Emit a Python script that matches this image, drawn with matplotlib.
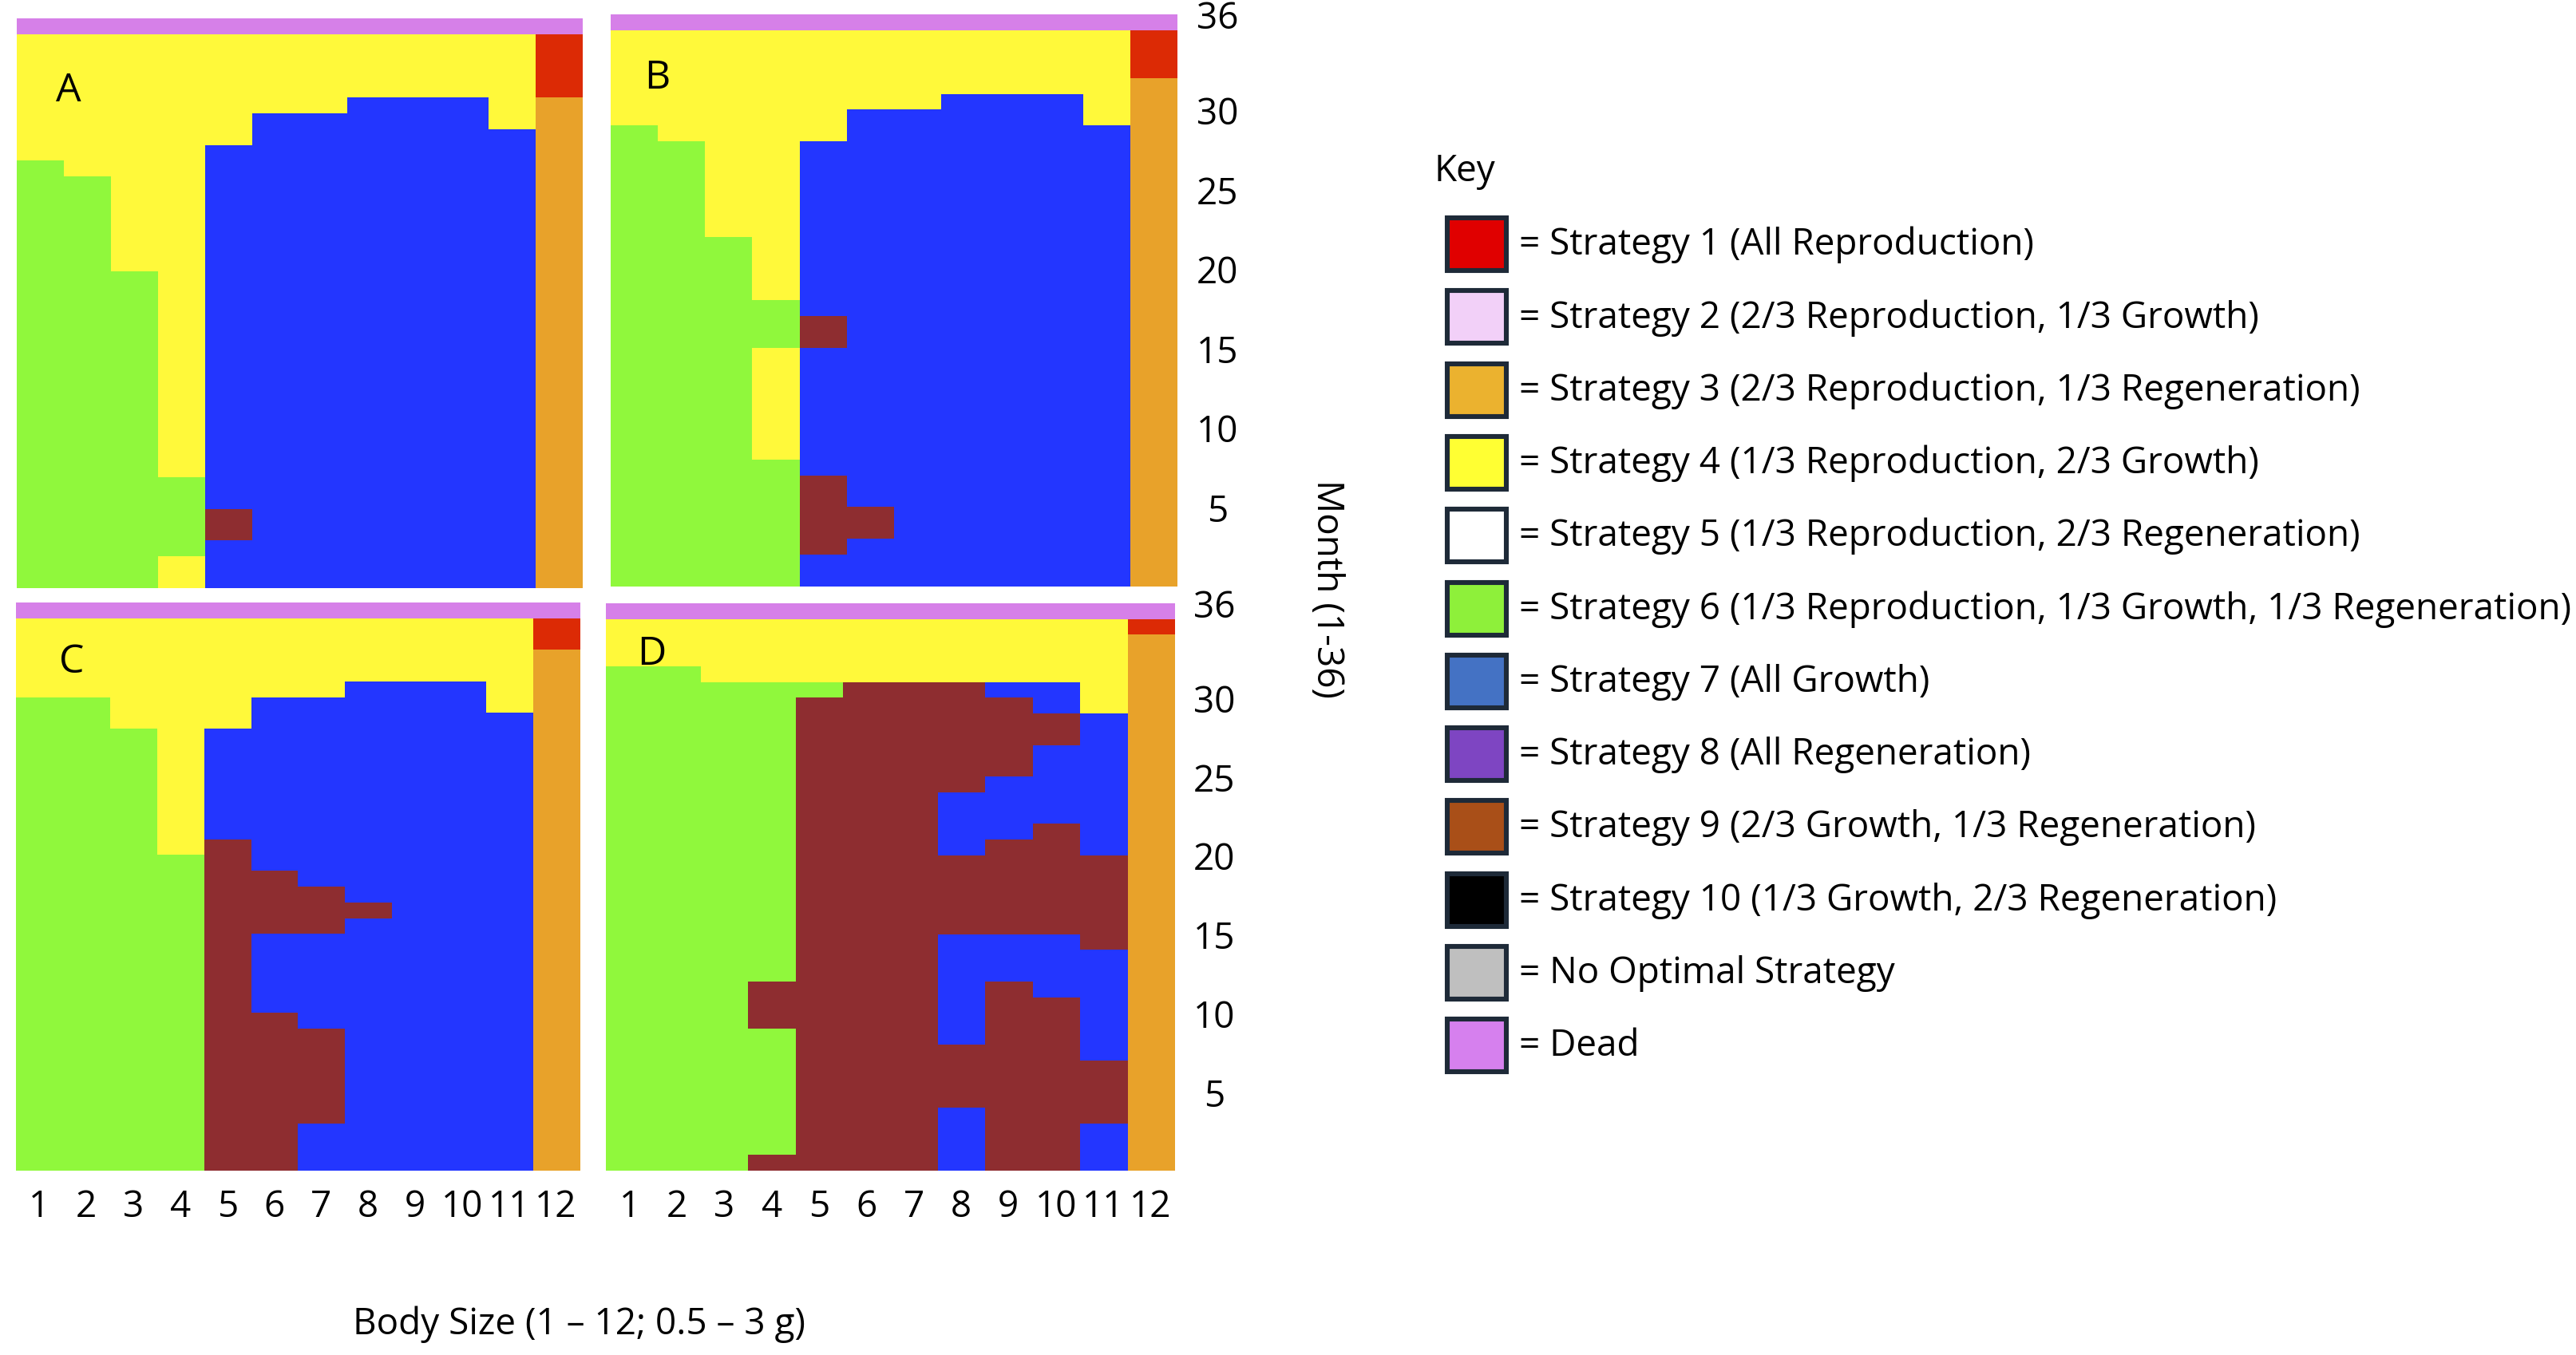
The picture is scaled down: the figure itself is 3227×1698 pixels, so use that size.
import numpy as np
import matplotlib
matplotlib.use("Agg")
import matplotlib.pyplot as plt
from matplotlib.colors import ListedColormap
from matplotlib.patches import Rectangle

plt.rcParams['font.family'] = ['Open Sans', 'DejaVu Sans']

W, H, DPI = 3227, 1699, 200

# cell codes, one string per month from 36 (top) down to 1, one char per body size 1..12
# x = dead, 1 = strategy 1, 3 = strategy 3, 4 = strategy 4, 6 = strategy 6,
# 7 = strategy 7, 9 = strategy 9
PANEL_A = (["xxxxxxxxxxxx"] + ["444444444441"] * 4 + ["444444477743", "444447777743",
           "444447777773", "444477777773", "644477777773"] + ["664477777773"] * 6 +
           ["666477777773"] * 13 + ["666677777773"] * 2 + ["666697777773"] * 2 +
           ["666677777773"] + ["666477777773"] * 2)

PANEL_B = (["xxxxxxxxxxxx"] + ["444444444441"] * 3 + ["444444444443", "444444477743",
           "444447777743", "644447777773"] + ["664477777773"] * 6 +
           ["666477777773"] * 4 + ["666677777773"] + ["666697777773"] * 2 +
           ["666477777773"] * 7 + ["666677777773"] + ["666697777773"] * 2 +
           ["666699777773"] * 2 + ["666697777773"] + ["666677777773"] * 2)

PANEL_C = (["xxxxxxxxxxxx"] + ["444444444441"] * 2 + ["444444444443"] * 2 +
           ["444444477743", "664447777743", "664447777773"] + ["666477777773"] * 7 +
           ["666497777773", "666697777773", "666699777773", "666699977773",
            "666699997773", "666699977773"] + ["666697777773"] * 5 +
           ["666699777773"] + ["666699977773"] * 6 + ["666699777773"] * 3)

PANEL_D = (["xxxxxxxxxxxx", "444444444441"] + ["444444444443"] * 2 +
           ["664444444443", "666669997743", "666699999743"] + ["666699999973"] * 2 +
           ["666699999773"] * 2 + ["666699997773"] + ["666699977773"] * 2 +
           ["666699977973", "666699979973"] + ["666699999993"] * 5 +
           ["666699977793"] + ["666699977773"] * 2 + ["666999979773"] +
           ["666999979973"] * 2 + ["666699979973", "666699999973"] +
           ["666699999993"] * 3 + ["666699979993"] + ["666699979973"] * 2 +
           ["666999979973"])

PANELS = {"A": PANEL_A, "B": PANEL_B, "C": PANEL_C, "D": PANEL_D}

MAP_COLORS = {
    "x": "#d680e8",
    "1": "#dc2a05",
    "3": "#e8a22a",
    "4": "#fff93a",
    "6": "#90f83c",
    "7": "#2336ff",
    "9": "#8e2d30",
}

SIZE_TICKS = list(range(1, 13))
MONTH_TICKS = [36, 30, 25, 20, 15, 10, 5]

KEY_LABELS = [
    "Strategy 1 (All Reproduction)",
    "Strategy 2 (2/3 Reproduction, 1/3 Growth)",
    "Strategy 3 (2/3 Reproduction, 1/3 Regeneration)",
    "Strategy 4 (1/3 Reproduction, 2/3 Growth)",
    "Strategy 5 (1/3 Reproduction, 2/3 Regeneration)",
    "Strategy 6 (1/3 Reproduction, 1/3 Growth, 1/3 Regeneration)",
    "Strategy 7 (All Growth)",
    "Strategy 8 (All Regeneration)",
    "Strategy 9 (2/3 Growth, 1/3 Regeneration)",
    "Strategy 10 (1/3 Growth, 2/3 Regeneration)",
    "No Optimal Strategy",
    "Dead",
]
KEY_COLORS = ["#e00000", "#f2d0f8", "#ebb22f", "#ffff33", "#ffffff", "#8ef03a",
              "#4472c4", "#7e45c2", "#a94f18", "#000000", "#bfbfbf", "#d680ee"]

# panel boxes in pixels: left, top, right, bottom
BOXES = {
    "A": (21, 24, 729, 738),
    "B": (765, 19, 1475, 736),
    "C": (20, 756, 726, 1468),
    "D": (759, 757, 1471, 1468),
}
LETTER_POS = {"A": (0.092, 0.874), "B": (0.082, 0.889), "C": (0.099, 0.896), "D": (0.080, 0.911)}

FS = 16.5


def _add_px_axes(fig, box):
    l, t, r, b = box
    return fig.add_axes([l / W, 1 - b / H, (r - l) / W, (b - t) / H])


def _draw_panel(ax, name):
    codes = list(MAP_COLORS.keys())
    grid = np.array([[codes.index(c) for c in row] for row in PANELS[name]])
    cmap = ListedColormap([MAP_COLORS[c] for c in codes])
    ax.imshow(grid, cmap=cmap, vmin=-0.5, vmax=len(codes) - 0.5,
              extent=(0.5, 12.5, 0.5, 36.5), aspect="auto", interpolation="nearest")
    for s in ax.spines.values():
        s.set_visible(False)
    ax.tick_params(length=0, labelsize=FS)
    if name in ("C", "D"):
        ax.set_xticks(SIZE_TICKS)
        ax.tick_params(axis="x", pad=8)
    else:
        ax.set_xticks([])
    if name in ("B", "D"):
        ax.yaxis.tick_right()
        # labels sit on the upper edge of their month row
        ax.set_yticks([m + 0.5 for m in MONTH_TICKS], [str(m) for m in MONTH_TICKS])
        ax.tick_params(axis="y", pad=18)
        for lab in ax.get_yticklabels():
            lab.set_horizontalalignment("center")
    else:
        ax.set_yticks([])
    lx, ly = LETTER_POS[name]
    ax.text(lx, ly, name, transform=ax.transAxes, fontsize=18, ha="center", va="center")


fig = plt.figure(figsize=(W / DPI, H / DPI), dpi=DPI)

for name, box in BOXES.items():
    _draw_panel(_add_px_axes(fig, box), name)

# overlay in pixel coordinates for labels and key
over = fig.add_axes([0, 0, 1, 1])
over.set_xlim(0, W)
over.set_ylim(H, 0)
over.axis("off")

over.text(725, 1660, "Body Size (1 \u2013 12; 0.5 \u2013 3 g)", fontsize=FS, ha="center", va="center")
over.text(1662, 738, "Month (1-36)", fontsize=FS, ha="center", va="center", rotation=-90)

over.text(1796, 215, "Key", fontsize=FS, ha="left", va="center")
for i, (label, color) in enumerate(zip(KEY_LABELS, KEY_COLORS)):
    yc = 307 + i * 91.3
    over.add_patch(Rectangle((1813, yc - 33), 74, 66, facecolor=color,
                             edgecolor="#1e2a38", linewidth=2.2))
    over.text(1903, yc, "= " + label, fontsize=FS, ha="left", va="center")

fig.savefig("out.png", dpi=DPI)
